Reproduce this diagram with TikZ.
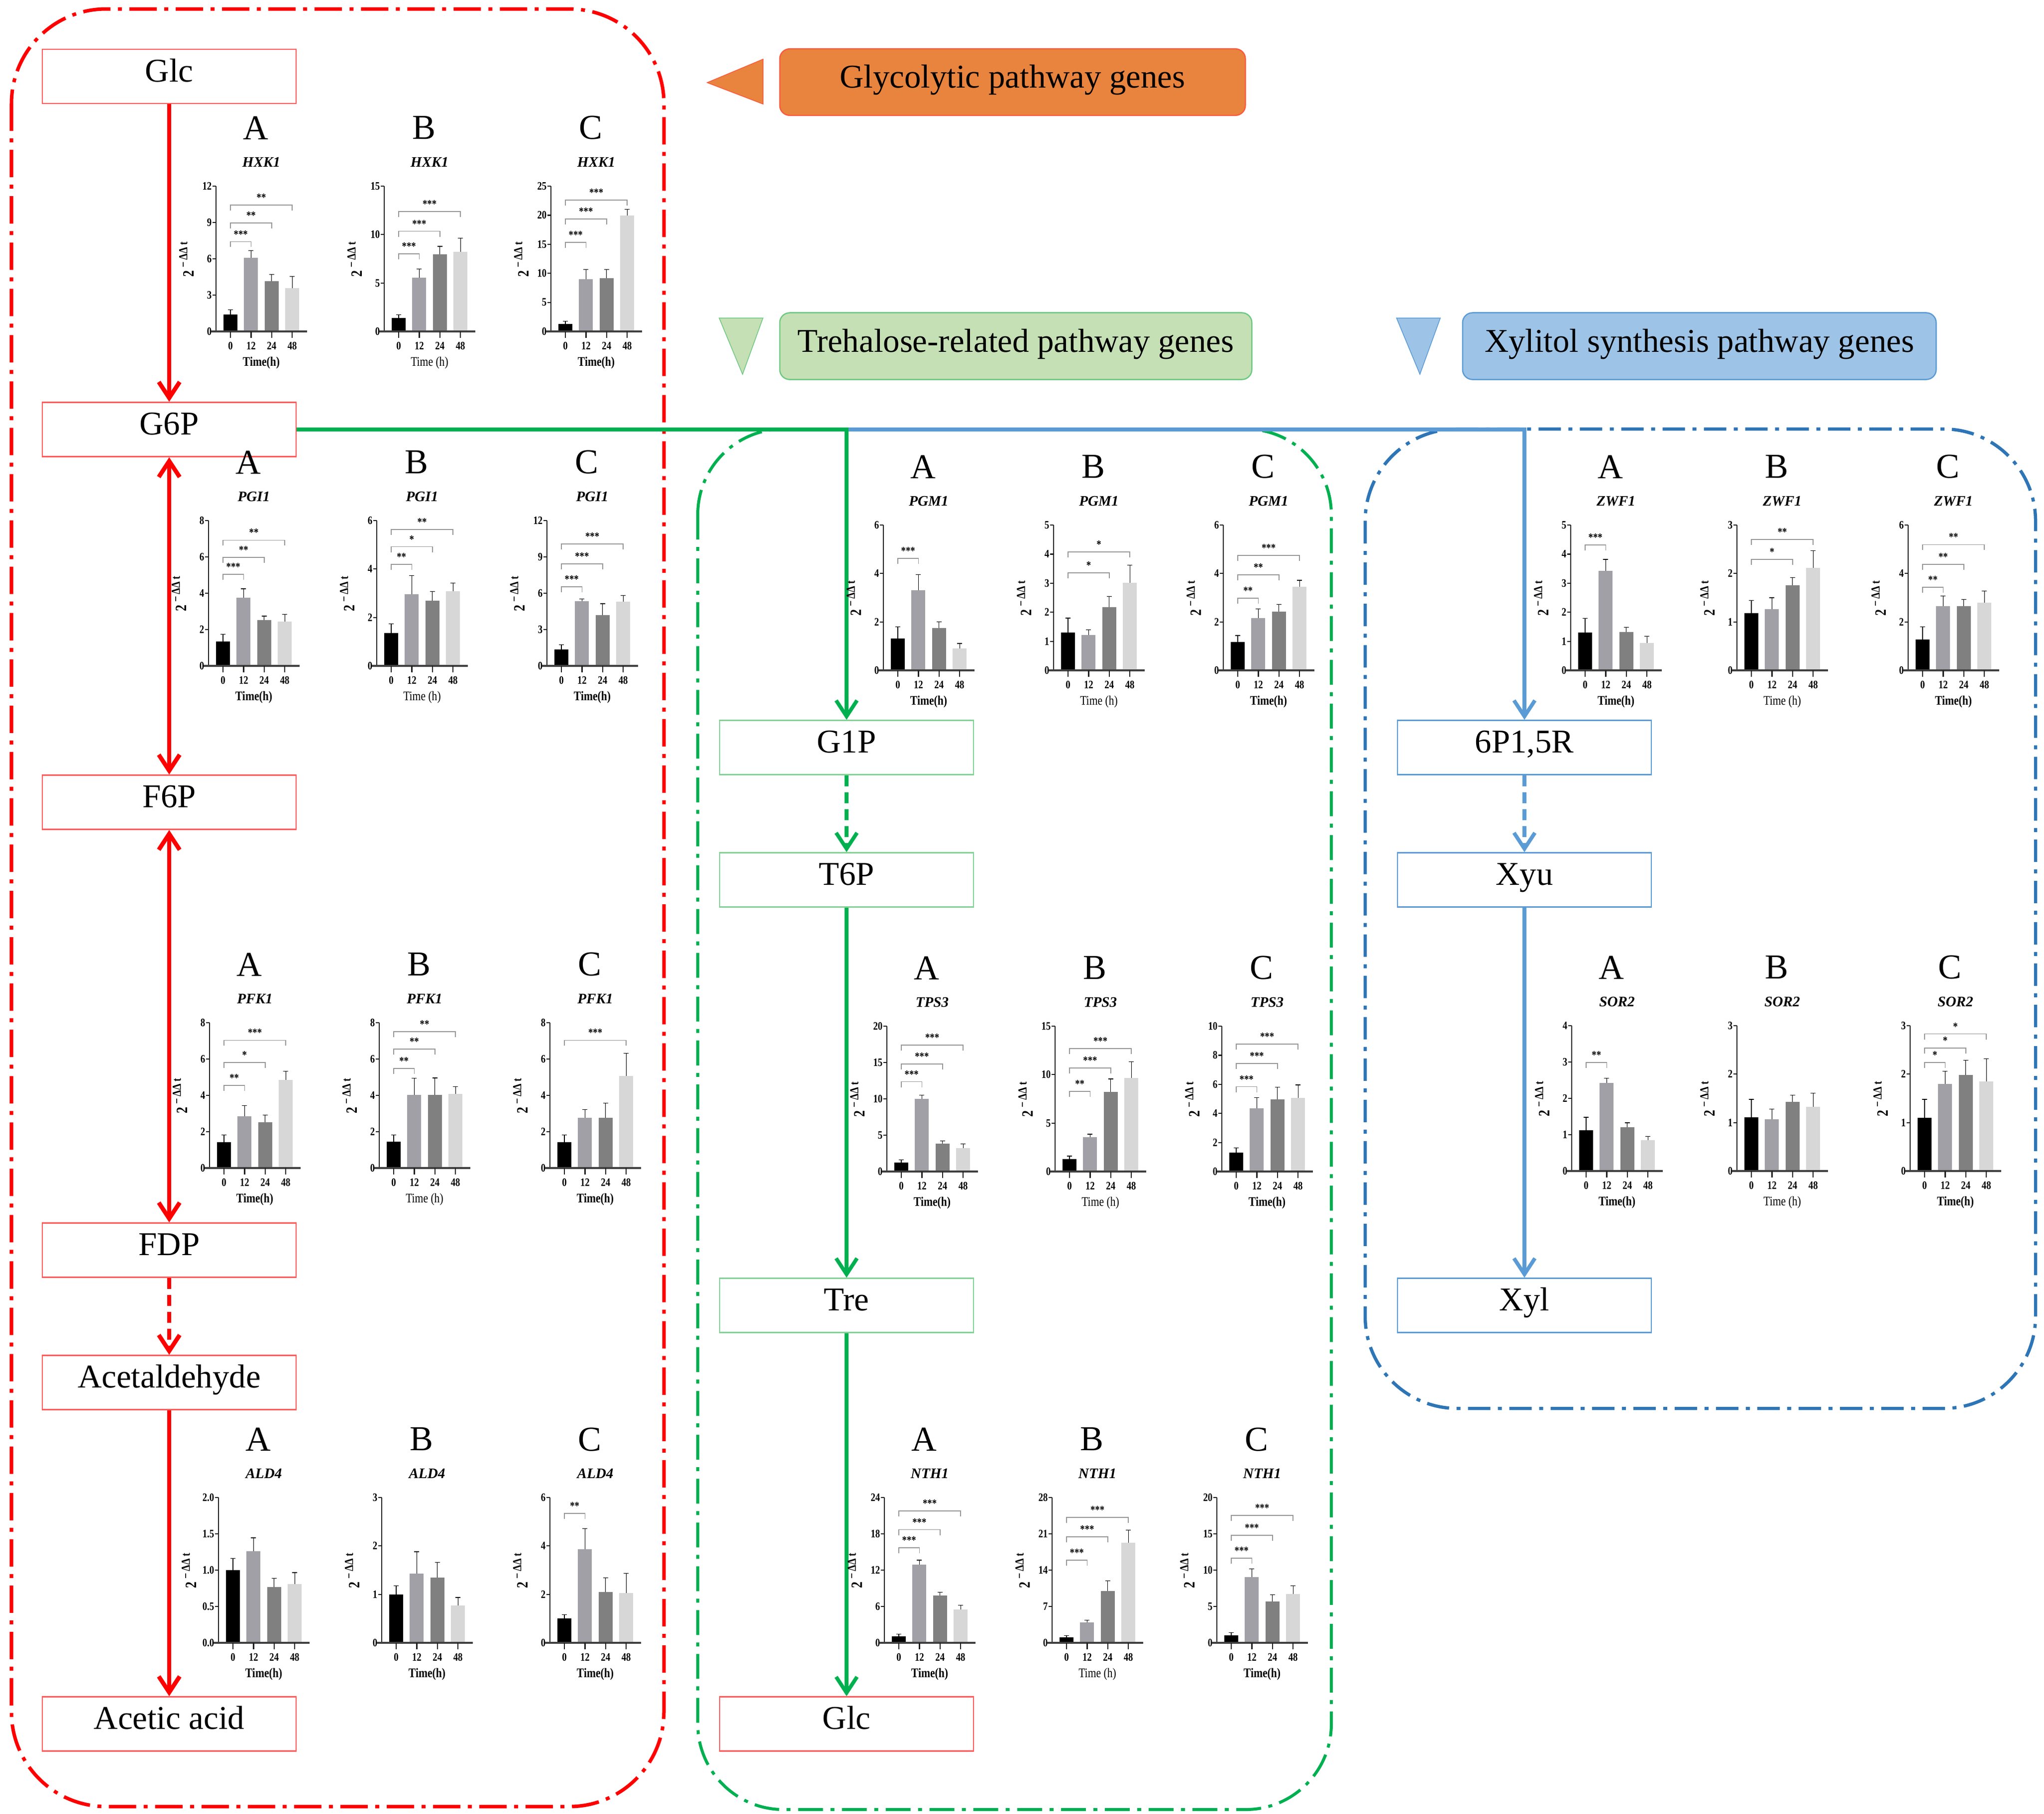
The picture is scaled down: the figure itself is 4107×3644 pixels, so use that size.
\documentclass[tikz,border=0pt]{standalone}
\usepackage{fontspec}
\setmainfont{Liberation Serif}
\newfontfamily\chartfont{Liberation Serif}[FakeStretch=0.82]
\usetikzlibrary{arrows.meta}
\definecolor{redc}{RGB}{255,0,0}
\definecolor{greenc}{RGB}{0,176,80}
\definecolor{bluec}{RGB}{91,155,213}
\definecolor{blueb}{RGB}{46,117,182}
\definecolor{orangef}{RGB}{232,132,62}
\definecolor{oranged}{RGB}{250,90,60}
\definecolor{greenf}{RGB}{197,224,180}
\definecolor{greend}{RGB}{110,200,130}
\definecolor{bluef}{RGB}{157,195,230}
\definecolor{bluelb}{RGB}{91,155,213}
\definecolor{redlb}{RGB}{255,90,90}
\definecolor{greenlb}{RGB}{130,210,150}
\definecolor{barc0}{RGB}{0,0,0}
\definecolor{barc1}{RGB}{160,160,166}
\definecolor{barc2}{RGB}{128,128,128}
\definecolor{barc3}{RGB}{215,215,215}
\definecolor{brkc}{RGB}{150,150,150}
\definecolor{axc}{RGB}{30,30,30}
\tikzset{
  barb/.tip={Straight Barb[length=0.32cm,width=0.42cm]},
  redbound/.style={draw=redc, line width=0.07cm, rounded corners=1.9cm, dash pattern=on 0.55cm off 0.15cm on 0.08cm off 0.15cm},
  greenbound/.style={draw=greenc, line width=0.06cm, rounded corners=1.72cm, dash pattern=on 0.5cm off 0.15cm on 0.08cm off 0.15cm},
  bluebound/.style={draw=blueb, line width=0.065cm, rounded corners=1.85cm, dash pattern=on 0.45cm off 0.15cm on 0.08cm off 0.15cm},
  redarr/.style={draw=redc, line width=0.085cm, -barb},
  greenarr/.style={draw=greenc, line width=0.075cm, -barb},
  bluearr/.style={draw=bluec, line width=0.075cm, -barb},
  dashconn/.style={dash pattern=on 0.22cm off 0.12cm},
  mbox/.style={minimum width=5.1cm, minimum height=1.09cm, inner sep=0pt, text height=0.68em, text depth=0.07em, line width=0.025cm, fill=white, font=\fontsize{19pt}{22pt}\selectfont},
  rbox/.style={mbox, draw=redlb},
  gbox/.style={mbox, draw=greenlb},
  bbox/.style={mbox, draw=bluelb},
  legbox/.style={rounded corners=0.2cm, line width=0.025cm, inner sep=0pt, text height=0.68em, text depth=0em, font=\fontsize{19pt}{22pt}\selectfont},
  errbar/.style={draw=black, line width=0.012cm},
  axline/.style={draw=axc, line width=0.022cm},
  xaxline/.style={draw=black!75, line width=0.04cm},
  brkline/.style={draw=brkc, line width=0.018cm},
  ticklab/.style={inner sep=0pt, font=\chartfont\bfseries\fontsize{6.5pt}{7pt}\selectfont},
  starlab/.style={inner sep=0pt, font=\chartfont\bfseries\fontsize{6.5pt}{7pt}\selectfont},
  letterlab/.style={inner sep=0pt, font=\fontsize{20pt}{24pt}\selectfont},
  genelab/.style={inner sep=0pt, font=\bfseries\itshape\fontsize{8.3pt}{9.6pt}\selectfont},
  timelab/.style={inner sep=0pt, font=\chartfont\fontsize{7.5pt}{9pt}\selectfont},
  ylab/.style={inner sep=0pt, rotate=90, font=\chartfont\bfseries\fontsize{9pt}{10pt}\selectfont},
}
\newcommand\timeA{\textbf{Time(h)}}
\newcommand\timeB{Time (h)}
% #1 x0, #2 y0, #3 ymax, #4 ticks, #5 letter, #6 gene, #7 bars, #8 time label
\newcommand{\barchart}[8]{%
\begin{scope}[shift={(#1,#2)}]
\pgfmathsetmacro\chsc{292/#3}
\foreach \cv/\ce [count=\ci from 0] in {#7}{%
  \pgfmathsetmacro\cbx{29+41.4*\ci}%
  \pgfmathsetmacro\cby{\cv*\chsc}%
  \pgfmathsetmacro\cey{\ce*\chsc}%
  \fill[fill=barc\ci] (\cbx-14,0) rectangle (\cbx+14,-\cby);
  \draw[errbar] (\cbx,-\cby) -- (\cbx,-\cey) (\cbx-5,-\cey) -- (\cbx+5,-\cey);
}
\draw[axline] (0,0) -- (0,-292);
\foreach \ctk [count=\cj] in {#4}{%
  \pgfmathsetmacro\cty{\ctk*\chsc}%
  \draw[axline] (-7,-\cty) -- (0,-\cty);
  \node[ticklab, anchor=east] (#6#5y\cj) at (-8,-\cty) {\ctk};
}
\draw[xaxline] (-10,0) -- (183,0);
\foreach \ctl [count=\ci from 0] in {0,12,24,48}{%
  \pgfmathsetmacro\cbx{29+41.4*\ci}%
  \draw[axline] (\cbx,0) -- (\cbx,13);
  \node[ticklab] (#6#5x\ci) at (\cbx,29) {\ctl};
}
\node[letterlab] (#6#5L) at (80,-409) {#5};
\node[genelab] (#6#5G) at (91,-340) {#6};
\node[timelab] (#6#5T) at (91,63) {#8};
\node[ylab] (#6#5Y) at (-59,-145) {2\,\raisebox{0.42em}{\fontsize{7pt}{8pt}\selectfont −\,ΔΔ\,t}};
\end{scope}}
% #1 x0, #2 y0, #3 ymax, #4 id, #5 list k/level/stars
\newcommand{\chartbrackets}[5]{%
\begin{scope}[shift={(#1,#2)}]
\pgfmathsetmacro\chsc{292/#3}
\foreach \ck/\clv/\cst [count=\cj] in {#5}{%
  \pgfmathsetmacro\cbk{29+41.4*\ck}%
  \pgfmathsetmacro\cly{\clv*\chsc}%
  \pgfmathsetmacro\cmid{(29+\cbk)/2}%
  \draw[brkline] (29,-\cly+11) -- (29,-\cly) -- (\cbk,-\cly) -- (\cbk,-\cly+11);
  \node[starlab] (#4s\cj) at (\cmid,-\cly-15) {\cst};
}
\end{scope}}
\begin{document}
\begin{tikzpicture}[x=0.01cm, y=-0.01cm]
\fill[white] (0,0) rectangle (4107,3644);
\useasboundingbox (0,0) rectangle (4107,3644);
% pathway frames
\draw[redbound] (23,18) rectangle (1334,3630);
\draw[greenbound] (1402,862) rectangle (2675,3636);
\draw[bluebound] (2743,862) rectangle (4090,2830);
% legend
\node[legbox, fill=orangef, draw=oranged, minimum width=9.35cm, minimum height=1.335cm] (legG) at (2034.5,165) {Glycolytic pathway genes};
\filldraw[fill=orangef, draw=oranged, line width=0.015cm] (1421,166) -- (1533,119) -- (1533,209) -- cycle;
\node[legbox, fill=greenf, draw=greend, minimum width=9.48cm, minimum height=1.34cm] (legT) at (2041,695.5) {Trehalose-related pathway genes};
\filldraw[fill=greenf, draw=greend, line width=0.015cm] (1445,639) -- (1533,639) -- (1492,752) -- cycle;
\node[legbox, fill=bluef, draw=bluelb, minimum width=9.51cm, minimum height=1.34cm] (legX) at (3414.5,695.5) {Xylitol synthesis pathway genes};
\filldraw[fill=bluef, draw=bluelb, line width=0.015cm] (2806,639) -- (2894,639) -- (2853,752) -- cycle;
% metabolite boxes
\node[rbox] (glc1) at (340,153.5) {Glc};
\node[rbox] (g6p) at (340,863) {G6P};
\node[rbox] (f6p) at (340,1612) {F6P};
\node[rbox] (fdp) at (340,2512) {FDP};
\node[rbox] (acet) at (340,2778) {Acetaldehyde};
\node[rbox] (acid) at (340,3464) {Acetic acid};
\node[gbox] (g1p) at (1701,1502) {G1P};
\node[gbox] (t6p) at (1701,1768) {T6P};
\node[gbox] (tre) at (1701,2623) {Tre};
\node[rbox] (glc2) at (1701,3464) {Glc};
\node[bbox] (p15r) at (3063,1502) {6P1,5R};
\node[bbox] (xyu) at (3063,1768) {Xyu};
\node[bbox] (xyl) at (3063,2623) {Xyl};
% connectors
\draw[redarr] (glc1) -- (g6p);
\draw[redarr, barb-barb] (g6p) -- (f6p);
\draw[redarr, barb-barb] (f6p) -- (fdp);
\draw[redarr, dashconn] (fdp) -- (acet);
\draw[redarr] (acet) -- (acid);
\coordinate (jn) at (g1p.north |- g6p.east);
\draw[bluearr] (jn) -- (p15r.north |- jn) -- (p15r.north);
\draw[greenarr] (g6p.east) -- (jn) -- (g1p.north);
\draw[greenarr, dashconn] (g1p) -- (t6p);
\draw[greenarr] (t6p) -- (tre);
\draw[greenarr] (tre) -- (glc2);
\draw[bluearr, dashconn] (p15r) -- (xyu);
\draw[bluearr] (xyu) -- (xyl);
% HXK1
\barchart{434}{666}{12}{0,3,6,9,12}{A}{HXK1}{1.40/1.78,6.10/6.67,4.14/4.69,3.56/4.55}{\timeA}
\chartbrackets{434}{666}{12}{HXK1A}{1/7.42/***,2/8.97/**,3/10.44/**}
\barchart{772}{666}{15}{0,5,10,15}{B}{HXK1}{1.37/1.72,5.57/6.45,7.98/8.79,8.21/9.63}{\timeB}
\chartbrackets{772}{666}{15}{HXK1B}{1/8.03/***,2/10.35/***,3/12.37/***}
\barchart{1107}{666}{25}{0,5,10,15,20,25}{C}{HXK1}{1.32/1.75,8.98/10.64,9.12/10.64,19.94/21.02}{\timeA}
\chartbrackets{1107}{666}{25}{HXK1C}{1/15.35/***,2/19.36/***,3/22.63/***}
% PGI1
\barchart{419}{1338}{8}{0,2,4,6,8}{A}{PGI1}{1.35/1.73,3.75/4.25,2.51/2.74,2.45/2.83}{\timeA}
\chartbrackets{419}{1338}{8}{PGI1A}{1/5.04/***,2/5.97/**,3/6.92/**}
\barchart{757}{1338}{6}{0,2,4,6}{B}{PGI1}{1.35/1.74,2.95/3.73,2.70/3.07,3.09/3.43}{\timeB}
\chartbrackets{757}{1338}{6}{PGI1B}{1/4.2/**,2/4.92/*,3/5.63/**}
\barchart{1099}{1338}{12}{0,3,6,9,12}{C}{PGI1}{1.36/1.74,5.35/5.52,4.19/5.14,5.31/5.80}{\timeA}
\chartbrackets{1099}{1338}{12}{PGI1C}{1/6.55/***,2/8.43/***,3/10.06/***}
% PFK1
\barchart{421}{2347}{8}{0,2,4,6,8}{A}{PFK1}{1.42/1.82,2.86/3.44,2.53/2.91,4.86/5.33}{\timeA}
\chartbrackets{421}{2347}{8}{PFK1A}{1/4.55/**,2/5.82/*,3/7.03/***}
\barchart{762}{2347}{8}{0,2,4,6,8}{B}{PFK1}{1.45/1.83,4.03/4.95,4.02/4.96,4.07/4.49}{\timeB}
\chartbrackets{762}{2347}{8}{PFK1B}{1/5.47/**,2/6.54/**,3/7.5/**}
\barchart{1105}{2347}{8}{0,2,4,6,8}{C}{PFK1}{1.42/1.82,2.76/3.23,2.76/3.57,5.07/6.32}{\timeA}
\chartbrackets{1105}{2347}{8}{PFK1C}{3/7.03/***}
% ALD4
\barchart{439}{3301}{2}{0.0,0.5,1.0,1.5,2.0}{A}{ALD4}{1.00/1.16,1.26/1.445,0.767/0.885,0.81/0.966}{\timeA}
\barchart{767}{3301}{3}{0,1,2,3}{B}{ALD4}{1.0/1.18,1.43/1.88,1.35/1.66,0.77/0.935}{\timeA}
\barchart{1105}{3301}{6}{0,2,4,6}{C}{ALD4}{1.0/1.16,3.86/4.72,2.09/2.69,2.06/2.87}{\timeA}
\chartbrackets{1105}{3301}{6}{ALD4C}{1/5.34/**}
% PGM1
\barchart{1775}{1347}{6}{0,2,4,6}{A}{PGM1}{1.31/1.80,3.30/3.95,1.75/2.01,0.90/1.11}{\timeA}
\chartbrackets{1775}{1347}{6}{PGM1A}{1/4.63/***}
\barchart{2117}{1347}{5}{0,1,2,3,4,5}{B}{PGM1}{1.31/1.80,1.21/1.39,2.18/2.55,3.01/3.62}{\timeB}
\chartbrackets{2117}{1347}{5}{PGM1B}{2/3.36/*,3/4.07/*}
\barchart{2458}{1347}{6}{0,2,4,6}{C}{PGM1}{1.18/1.44,2.15/2.54,2.43/2.73,3.46/3.72}{\timeA}
\chartbrackets{2458}{1347}{6}{PGM1C}{1/2.98/**,2/3.94/**,3/4.75/***}
% TPS3
\barchart{1782}{2354}{20}{0,5,10,15,20}{A}{TPS3}{1.25/1.6,9.99/10.53,3.83/4.23,3.24/3.78}{\timeA}
\chartbrackets{1782}{2354}{20}{TPS3A}{1/12.36/***,2/14.8/***,3/17.39/***}
\barchart{2120}{2354}{15}{0,5,10,15}{B}{TPS3}{1.27/1.59,3.57/3.86,8.23/9.56,9.65/11.33}{\timeB}
\chartbrackets{2120}{2354}{15}{TPS3B}{1/8.28/**,2/10.67/***,3/12.71/***}
\barchart{2455}{2354}{10}{0,2,4,6,8,10}{C}{TPS3}{1.32/1.64,4.34/5.1,4.96/5.8,5.08/5.96}{\timeA}
\chartbrackets{2455}{2354}{10}{TPS3C}{1/5.84/***,2/7.44/***,3/8.77/***}
% NTH1
\barchart{1777}{3301}{24}{0,6,12,18,24}{A}{NTH1}{1.05/1.42,12.89/13.65,7.79/8.33,5.52/6.23}{\timeA}
\chartbrackets{1777}{3301}{24}{NTH1A}{1/15.72/***,2/18.7/***,3/21.8/***}
\barchart{2114}{3301}{28}{0,7,14,21,28}{B}{NTH1}{1.09/1.42,3.96/4.39,10.0/11.95,19.31/21.72}{\timeB}
\chartbrackets{2114}{3301}{28}{NTH1B}{1/15.94/***,2/20.4/***,3/24.16/***}
\barchart{2445}{3301}{20}{0,5,10,15,20}{C}{NTH1}{1.04/1.41,9.06/10.16,5.69/6.64,6.75/7.86}{\timeA}
\chartbrackets{2445}{3301}{20}{NTH1C}{1/11.65/***,2/14.82/***,3/17.53/***}
% ZWF1
\barchart{3156}{1347}{5}{0,1,2,3,4,5}{A}{ZWF1}{1.30/1.79,3.43/3.82,1.32/1.48,0.94/1.18}{\timeA}
\chartbrackets{3156}{1347}{5}{ZWF1A}{1/4.32/***}
\barchart{3490}{1347}{3}{0,1,2,3}{B}{ZWF1}{1.18/1.44,1.26/1.50,1.76/1.92,2.12/2.47}{\timeB}
\chartbrackets{3490}{1347}{3}{ZWF1B}{2/2.29/*,3/2.70/**}
\barchart{3834}{1347}{6}{0,2,4,6}{C}{ZWF1}{1.28/1.80,2.66/3.07,2.66/2.93,2.79/3.27}{\timeA}
\chartbrackets{3834}{1347}{6}{ZWF1C}{1/3.43/**,2/4.38/**,3/5.19/**}
% SOR2
\barchart{3158}{2353}{4}{0,1,2,3,4}{A}{SOR2}{1.12/1.48,2.42/2.56,1.20/1.33,0.85/0.95}{\timeA}
\chartbrackets{3158}{2353}{4}{SOR2A}{1/2.99/**}
\barchart{3490}{2353}{3}{0,1,2,3}{B}{SOR2}{1.11/1.48,1.07/1.28,1.43/1.57,1.33/1.61}{\timeB}
\barchart{3838}{2353}{3}{0,1,2,3}{C}{SOR2}{1.10/1.48,1.80/2.06,1.98/2.29,1.85/2.32}{\timeA}
\chartbrackets{3838}{2353}{3}{SOR2C}{1/2.24/*,2/2.54/*,3/2.83/*}
\end{tikzpicture}
\end{document}
